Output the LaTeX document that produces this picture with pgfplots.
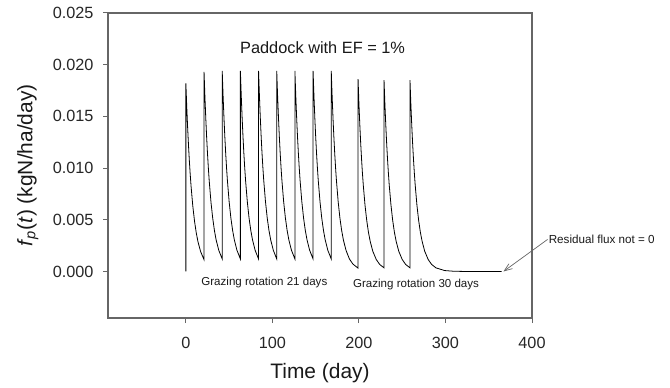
\documentclass[border=0pt]{standalone}
\usepackage{fontspec}
\setmainfont{Liberation Sans}
\usepackage{pgfplots}
\pgfplotsset{compat=1.18}
\usepackage{pgfplotstable}
\usetikzlibrary{arrows.meta}

\pgfplotstableread{
t f
0 0
0 0.0182
1 0.01595
2 0.01398
3 0.01225
4 0.01073
5 0.00941
6 0.00824
8 0.00633
10 0.00486
12 0.00373
14 0.00287
17 0.00193
21 0.00114
21 0.0193
22 0.01691
23 0.01482
24 0.01299
25 0.01138
26 0.00998
27 0.00874
29 0.00671
31 0.00516
33 0.00396
35 0.00304
38 0.00205
42 0.00121
42 0.0194
43 0.0170
44 0.0149
45 0.01306
46 0.01144
47 0.01003
48 0.00879
50 0.00675
52 0.00518
54 0.00398
56 0.00306
59 0.00206
63 0.00121
63 0.0194
64 0.0170
65 0.0149
66 0.01306
67 0.01144
68 0.01003
69 0.00879
71 0.00675
73 0.00518
75 0.00398
77 0.00306
80 0.00206
84 0.00121
84 0.0194
85 0.0170
86 0.0149
87 0.01306
88 0.01144
89 0.01003
90 0.00879
92 0.00675
94 0.00518
96 0.00398
98 0.00306
101 0.00206
105 0.00121
105 0.0194
106 0.0170
107 0.0149
108 0.01306
109 0.01144
110 0.01003
111 0.00879
113 0.00675
115 0.00518
117 0.00398
119 0.00306
122 0.00206
126 0.00121
126 0.0194
127 0.0170
128 0.0149
129 0.01306
130 0.01144
131 0.01003
132 0.00879
134 0.00675
136 0.00518
138 0.00398
140 0.00306
143 0.00206
147 0.00121
147 0.0194
148 0.0170
149 0.0149
150 0.01306
151 0.01144
152 0.01003
153 0.00879
155 0.00675
157 0.00518
159 0.00398
161 0.00306
164 0.00206
168 0.00121
168 0.0194
169 0.0170
170 0.0149
171 0.01306
172 0.01144
173 0.01003
174 0.00879
176 0.00675
178 0.00518
180 0.00398
182 0.00306
185 0.00206
189 0.00121
193 0.00072
199 0.00032
199 0.0186
200 0.01621
201 0.01421
202 0.01245
203 0.01091
204 0.00956
205 0.00838
207 0.00643
209 0.00494
211 0.00379
213 0.00292
216 0.00196
220 0.00116
224 0.00068
229 0.00035
229 0.0185
230 0.01621
231 0.01421
232 0.01245
233 0.01091
234 0.00956
235 0.00838
237 0.00643
239 0.00494
241 0.00379
243 0.00292
246 0.00196
250 0.00116
254 0.00068
259 0.00035
259 0.0185
260 0.01621
261 0.01421
262 0.01245
263 0.01091
264 0.00956
265 0.00838
267 0.00643
269 0.00494
271 0.00379
273 0.00292
276 0.00196
280 0.00116
284 0.00068
289 0.00035
299 0.00009
309 0.000025
319 0.000007
339 0
365 0
}\fluxdata

\begin{document}
\begin{tikzpicture}
\useasboundingbox (0,0) rectangle (670bp,388bp);
\begin{axis}[
  at={(108bp,70bp)}, anchor=south west,
  scale only axis,
  width=424bp, height=305bp,
  xmin=-90, xmax=400,
  ymin=-0.0045, ymax=0.025,
  xtick={0,100,200,300,400},
  ytick={0,0.005,0.010,0.015,0.020,0.025},
  yticklabel style={/pgf/number format/fixed, /pgf/number format/fixed zerofill, /pgf/number format/precision=3, xshift=-6bp},
  /pgf/number format/assume math mode=true,
  scaled y ticks=false,
  xtick pos=bottom, ytick pos=left,
  tick align=outside,
  major tick length=5bp,
  axis line style={draw=black!60, line width=1.1bp},
  every tick/.style={black!60, line width=1bp},
  tick label style={font=\fontsize{16.3}{19}\selectfont, text=black!85},
  xticklabel style={yshift=-10.5bp},
  xlabel={Time (day)},
  ylabel={\textit{f}\textsubscript{\textit{p}}(\textit{t}) (kgN/ha/day)},
  label style={font=\fontsize{21}{25}\selectfont, text=black!90},
  xlabel style={at={(axis description cs:0.5,-0.180)}, anchor=center},
  ylabel style={at={(axis description cs:-0.189,0.5)}, anchor=center},
  clip=false,
]
\addplot[black, line width=0.8bp, line join=miter] table[x=t, y=f] {\fluxdata};
\draw[draw=black!60, line width=1.1bp] (axis cs:-90,0.025) -- (axis cs:400,0.025) -- (axis cs:400,-0.0045);
\node[font=\fontsize{16.4}{19}\selectfont, text=black!90] at (axis cs:158,0.0216) {Paddock with EF = 1\%};
\node[font=\fontsize{11.6}{14}\selectfont, text=black!90] at (axis cs:90.7,-0.00106) {Grazing rotation 21 days};
\node[font=\fontsize{11.6}{14}\selectfont, text=black!90] at (axis cs:266,-0.00129) {Grazing rotation 30 days};
\node[font=\fontsize{11.7}{14}\selectfont, text=black!90, anchor=west, inner sep=1bp] at (axis cs:418,0.0031) {Residual flux not = 0};
\draw[black!60, line width=0.7bp, -{Straight Barb[length=8bp, width=6bp]}] (axis cs:418,0.0031) -- (axis cs:367,0.0);
\end{axis}
\end{tikzpicture}
\end{document}
